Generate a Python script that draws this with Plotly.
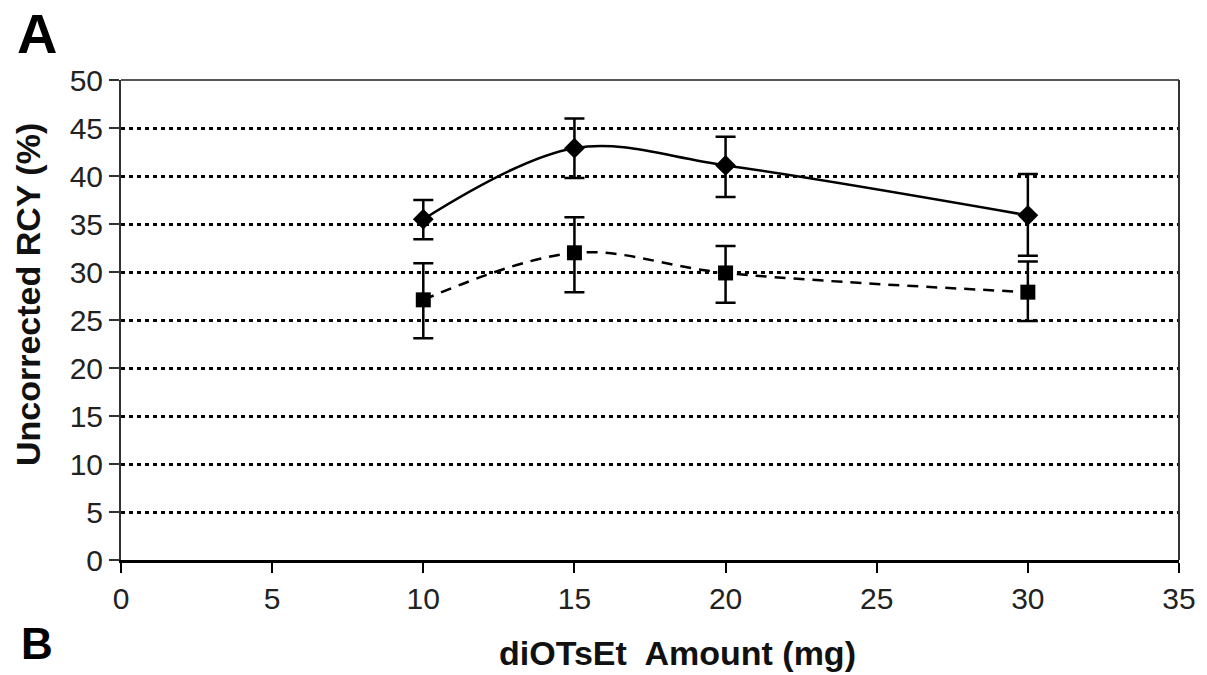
import plotly.graph_objects as go

# Data
amount_mg = [10, 15, 20, 30]

diamond_y = [35.5, 42.9, 41.1, 35.9]
diamond_err_plus = [2.0, 3.1, 3.0, 4.3]
diamond_err_minus = [2.1, 3.1, 3.3, 4.2]

square_y = [27.1, 32.0, 29.9, 27.9]
square_err_plus = [3.8, 3.7, 2.8, 3.2]
square_err_minus = [4.0, 4.1, 3.1, 3.0]

x_ticks = [0, 5, 10, 15, 20, 25, 30, 35]
y_ticks = [0, 5, 10, 15, 20, 25, 30, 35, 40, 45, 50]

FONT = "Liberation Sans, Arial, sans-serif"

fig = go.Figure()

fig.add_trace(go.Scatter(
    x=amount_mg, y=diamond_y, mode="lines+markers",
    line=dict(color="black", width=2.5, shape="spline", smoothing=1.0),
    marker=dict(symbol="diamond", size=16, color="black"),
    error_y=dict(type="data", array=diamond_err_plus, arrayminus=diamond_err_minus,
                 symmetric=False, color="black", thickness=2.5, width=10),
    showlegend=False,
))

fig.add_trace(go.Scatter(
    x=amount_mg, y=square_y, mode="lines+markers",
    line=dict(color="black", width=2.5, shape="spline", smoothing=1.0, dash="11px,8px"),
    marker=dict(symbol="square", size=15, color="black"),
    error_y=dict(type="data", array=square_err_plus, arrayminus=square_err_minus,
                 symmetric=False, color="black", thickness=2.5, width=10),
    showlegend=False,
))

fig.update_layout(
    width=1207, height=675,
    margin=dict(l=121, r=28, t=80, b=115),
    plot_bgcolor="white", paper_bgcolor="white",
    font=dict(family=FONT, color="black"),
    xaxis=dict(
        range=[0, 35], tickvals=x_ticks, ticktext=[str(v) for v in x_ticks],
        showgrid=False, zeroline=False,
        showline=True, linecolor="black", linewidth=3,
        ticks="outside", ticklen=10, tickwidth=2, tickcolor="black",
        tickfont=dict(size=30, family=FONT, color="#222"),
    ),
    yaxis=dict(
        range=[0, 50], tickvals=y_ticks, ticktext=[str(v) for v in y_ticks],
        showgrid=True, gridcolor="black", gridwidth=3, griddash="4px,4px",
        zeroline=False,
        showline=True, linecolor="#333", linewidth=2,
        ticks="outside", ticklen=10, tickwidth=2, tickcolor="#333",
        tickfont=dict(size=30, family=FONT, color="#222"),
    ),
    shapes=[
        dict(type="line", xref="x domain", yref="y domain", x0=0, x1=1, y0=1, y1=1,
             line=dict(color="#555", width=2)),
        dict(type="line", xref="x domain", yref="y domain", x0=1, x1=1, y0=0, y1=1,
             line=dict(color="#333", width=2)),
    ],
    annotations=[
        dict(text="<b>Uncorrected RCY (%)</b>", xref="paper", yref="paper",
             x=(28-121)/1058, y=(560-295)/480, textangle=-90,
             showarrow=False, font=dict(size=34, family=FONT, color="#111"),
             xanchor="center", yanchor="middle"),
        dict(text="<b>diOTsEt  Amount (mg)</b>", xref="paper", yref="paper",
             x=(677-121)/1058, y=-(653-560)/480,
             showarrow=False, font=dict(size=34, family=FONT, color="#111"),
             xanchor="center", yanchor="middle"),
        dict(text="<b>A</b>", xref="paper", yref="paper",
             x=(37-121)/1058, y=(560-34)/480,
             showarrow=False, font=dict(size=56, family=FONT, color="black"),
             xanchor="center", yanchor="middle"),
        dict(text="<b>B</b>", xref="paper", yref="paper",
             x=(37-121)/1058, y=(560-643)/480,
             showarrow=False, font=dict(size=44, family=FONT, color="black"),
             xanchor="center", yanchor="middle"),
    ],
)

fig.write_html("out.html")
